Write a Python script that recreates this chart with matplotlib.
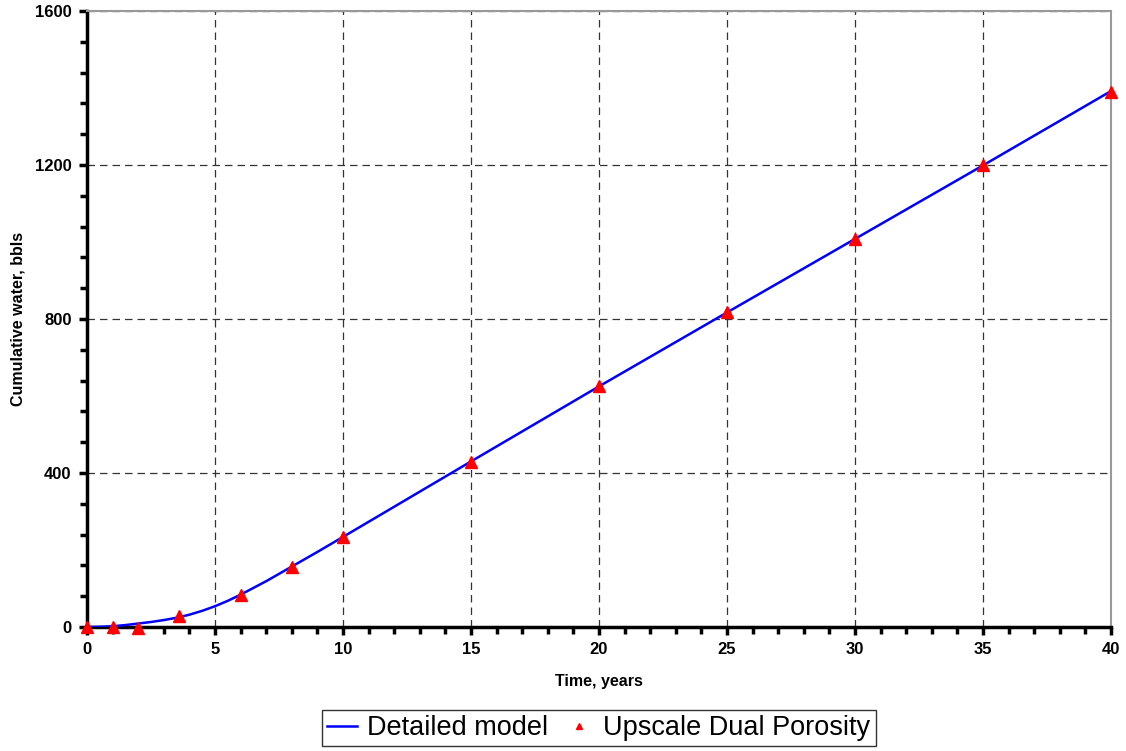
import numpy as np
import matplotlib.pyplot as plt
from matplotlib.ticker import MultipleLocator

# detailed model (continuous curve)
model_years = [0, 0.5, 1, 1.5, 2, 2.5, 3, 3.5, 4, 4.5, 5, 5.5, 6, 7, 8, 9, 10,
               15, 20, 25, 30, 35, 40]
model_water = [0, 0.5, 2, 5, 9, 13, 18, 24, 32, 42, 54, 68, 84, 119, 157, 195, 234,
               430, 625, 817, 1008, 1199, 1392]

# upscaled dual porosity results
dual_years = [0, 1, 2, 3.6, 6, 8, 10, 15, 20, 25, 30, 35, 40]
dual_water = [0, 0, -3, 28, 84, 157, 234, 429, 626, 818, 1007, 1200, 1390]

plt.rcParams['font.family'] = ['Liberation Sans', 'DejaVu Sans']

fig = plt.figure(figsize=(11.26, 7.51), dpi=100)
ax = fig.add_axes([87 / 1126, 1 - 627 / 751, 1024 / 1126, 616 / 751])

ax.plot(model_years, model_water, color='#0000ff', lw=1.8, label='Detailed model', zorder=3)
ax.plot(dual_years, dual_water, linestyle='none', marker='^', color='#ff0000',
        markersize=8, label='Upscale Dual Porosity', zorder=4, clip_on=False)

ax.set_xlim(0, 40)
ax.set_ylim(0, 1600)
ax.xaxis.set_major_locator(MultipleLocator(5))
ax.xaxis.set_minor_locator(MultipleLocator(1))
ax.yaxis.set_major_locator(MultipleLocator(400))
ax.yaxis.set_minor_locator(MultipleLocator(80))

ax.grid(True, which='major', color='#333333', linestyle=(0, (6, 4)), lw=0.9)
ax.set_axisbelow(True)

for side in ['left', 'bottom']:
    ax.spines[side].set_linewidth(2.5)
    ax.spines[side].set_color('black')
for side in ['top', 'right']:
    ax.spines[side].set_linewidth(1.5)
    ax.spines[side].set_color('#999999')

ax.tick_params(which='both', direction='out', width=2.5, color='black')
ax.tick_params(which='major', length=6, labelsize=12, pad=5)
ax.tick_params(which='minor', length=5)
for lab in ax.get_xticklabels() + ax.get_yticklabels():
    lab.set_fontweight('bold')

ax.set_xlabel('Time, years', fontsize=11.5, fontweight='bold', labelpad=12)
ax.set_ylabel('Cumulative water, bbls', fontsize=11.5, fontweight='bold', labelpad=7)

leg = fig.legend(loc='center', bbox_to_anchor=(599 / 1126, 1 - 728 / 751), ncol=2,
                 fontsize=19.5, frameon=True, fancybox=False, edgecolor='black',
                 handlelength=1.1, handletextpad=0.35, columnspacing=0.6,
                 borderpad=0.2, borderaxespad=0, markerscale=0.6)
leg.get_frame().set_linewidth(1.0)

fig.savefig('out.png', dpi=100)
